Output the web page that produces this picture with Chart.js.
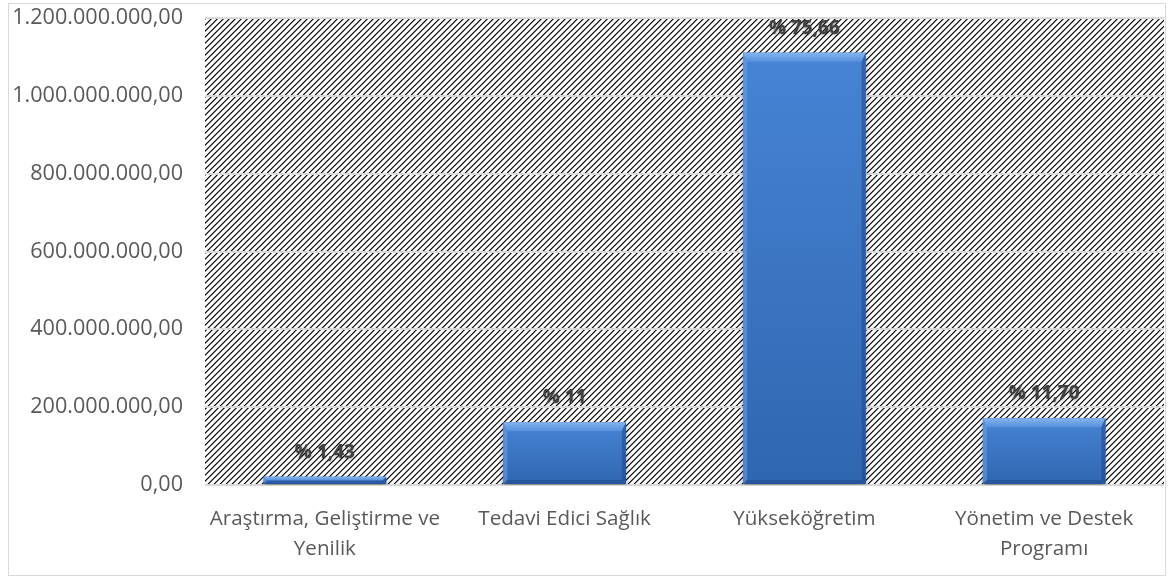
<!DOCTYPE html>
<html>
<head>
<meta charset="utf-8">
<script src="https://cdn.jsdelivr.net/npm/chart.js@4.4.1/dist/chart.umd.min.js"></script>
<style>
  html, body { margin: 0; padding: 0; background: #ffffff; }
  #wrap { position: absolute; left: 8px; top: 3px; width: 1156px; height: 571px; border: 1px solid #d9d9d9; }
  canvas { display: block; }
</style>
</head>
<body>
<div id="wrap"><canvas id="c" width="1156" height="571"></canvas></div>
<script>
const categories = [
  ['Araştırma, Geliştirme ve', 'Yenilik'],
  'Tedavi Edici Sağlık',
  'Yükseköğretim',
  ['Yönetim ve Destek', 'Programı']
];
const values = [21000000, 161500000, 1111000000, 171800000];
const percentLabels = ['% 1,43', '% 11', '% 75,66', '% 11,70'];
const yTickMax = 1200000000;
const yTickStep = 200000000;

function formatTR(v) {
  const intPart = Math.round(v).toString().replace(/\B(?=(\d{3})+(?!\d))/g, '.');
  return intPart + ',00';
}

function makePattern() {
  const n = 6;
  const p = document.createElement('canvas');
  p.width = n; p.height = n;
  const g = p.getContext('2d');
  const img = g.createImageData(n, n);
  for (let y = 0; y < n; y++) {
    for (let x = 0; x < n; x++) {
      const d = (x + y) % n;
      let c = 255;
      if (d === 0) c = 20;
      else if (d === 1) c = 120;
      else if (d === 5) c = 215;
      const k = (y * n + x) * 4;
      img.data[k] = c; img.data[k + 1] = c; img.data[k + 2] = c; img.data[k + 3] = 255;
    }
  }
  g.putImageData(img, 0, 0);
  return p;
}

const hatchPlugin = {
  id: 'hatch',
  beforeDraw(chart) {
    const { ctx, chartArea } = chart;
    const pat = ctx.createPattern(makePattern(), 'repeat');
    ctx.save();
    ctx.fillStyle = pat;
    ctx.fillRect(chartArea.left, chartArea.top, chartArea.right - chartArea.left, chartArea.bottom - chartArea.top);
    ctx.restore();
  }
};

const barStylePlugin = {
  id: 'barStyle',
  beforeDatasetsDraw(chart) {
    const ctx = chart.ctx;
    ctx.save();
    ctx.shadowColor = 'rgba(0,0,0,0.4)';
    ctx.shadowBlur = 5;
    ctx.shadowOffsetX = 0;
    ctx.shadowOffsetY = 3;
  },
  afterDatasetsDraw(chart) {
    const ctx = chart.ctx;
    ctx.restore();
    const meta = chart.getDatasetMeta(0);
    meta.data.forEach((el, i) => {
      const left = el.x - el.width / 2, right = el.x + el.width / 2;
      const top = el.y, bottom = el.base;
      const h = bottom - top;
      const bt = Math.min(9, h / 2), bs = Math.min(4, h / 2), bb = Math.min(4, h / 2);
      const poly = (pts, fill) => {
        ctx.beginPath();
        ctx.moveTo(pts[0][0], pts[0][1]);
        for (let k = 1; k < pts.length; k++) ctx.lineTo(pts[k][0], pts[k][1]);
        ctx.closePath();
        ctx.fillStyle = fill;
        ctx.fill();
      };
      ctx.save();
      const body = ctx.createLinearGradient(0, top, 0, bottom);
      body.addColorStop(0, '#4784d5');
      body.addColorStop(1, '#2f66b0');
      ctx.fillStyle = body;
      ctx.fillRect(left, top, right - left, h);
      const tg = ctx.createLinearGradient(0, top, 0, top + bt);
      tg.addColorStop(0, '#86b4ef');
      tg.addColorStop(1, '#5690dc');
      poly([[left, top], [right, top], [right - bs, top + bt], [left + bs, top + bt]], tg);
      poly([[left, top], [left + bs, top + bt], [left + bs, bottom - bb], [left, bottom]], 'rgba(110,160,230,0.55)');
      poly([[right, top], [right - bs, top + bt], [right - bs, bottom - bb], [right, bottom]], 'rgba(30,70,140,0.55)');
      poly([[left, bottom], [left + bs, bottom - bb], [right - bs, bottom - bb], [right, bottom]], 'rgba(30,70,140,0.5)');
      ctx.restore();

      // data label
      ctx.save();
      ctx.font = 'bold 19px "Open Sans"';
      ctx.textAlign = 'center';
      ctx.textBaseline = 'alphabetic';
      ctx.shadowColor = 'rgba(0,0,0,0.4)';
      ctx.shadowBlur = 3;
      ctx.shadowOffsetY = 1;
      ctx.fillStyle = '#404040';
      ctx.fillText(percentLabels[i], el.x, top - 19);
      ctx.restore();
    });
  }
};

new Chart(document.getElementById('c'), {
  type: 'bar',
  data: {
    labels: categories,
    datasets: [{
      data: values,
      backgroundColor: '#3b73c5',
      borderWidth: 0,
      barPercentage: 0.511,
      categoryPercentage: 1.0
    }]
  },
  options: {
    responsive: false,
    animation: false,
    layout: { padding: { top: 14, right: 1, left: 0, bottom: 0 } },
    plugins: { legend: { display: false }, tooltip: { enabled: false } },
    scales: {
      x: {
        offset: true,
        grid: { display: false, drawTicks: false },
        border: { display: false },
        ticks: {
          color: '#595959',
          font: { family: '"Open Sans"', size: 20.6, lineHeight: 1.46 },
          padding: 19,
          maxRotation: 0,
          autoSkip: false
        },
        afterFit(scale) { scale.height = 90; scale.paddingLeft = 0; scale.paddingRight = 0; }
      },
      y: {
        min: 0,
        max: yTickMax,
        grid: { color: '#d9d9d9', lineWidth: 2, drawTicks: false },
        border: { display: false },
        ticks: {
          stepSize: yTickStep,
          color: '#595959',
          font: { family: '"Open Sans"', size: 21.6 },
          padding: 22,
          callback: (v) => formatTR(v)
        },
        afterFit(scale) { scale.width = 196; scale.paddingTop = 0; scale.paddingBottom = 0; }
      }
    }
  },
  plugins: [hatchPlugin, barStylePlugin]
});
</script>
</body>
</html>
